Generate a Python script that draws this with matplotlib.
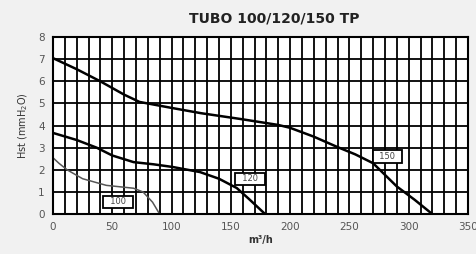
import numpy as np
import matplotlib
matplotlib.use("Agg")
import matplotlib.pyplot as plt

# pump curves: flow (m3/h) vs head (mH2O)
q150 = [0, 20, 40, 60, 73, 100, 125, 158, 190, 200, 220, 240, 255, 270, 290, 305, 320]
h150 = [7.05, 6.55, 6.0, 5.4, 5.07, 4.8, 4.56, 4.3, 4.03, 3.9, 3.5, 3.03, 2.7, 2.3, 1.25, 0.65, 0]

q120 = [0, 20, 37, 50, 68, 85, 101, 124, 140, 155, 165, 179]
h120 = [3.67, 3.35, 3.0, 2.65, 2.35, 2.25, 2.13, 1.9, 1.6, 1.18, 0.7, 0]

q100 = [0, 5, 12, 25, 45, 68, 76, 84, 90]
h100 = [2.55, 2.3, 2.0, 1.6, 1.3, 1.17, 1.0, 0.54, 0]

labels = ["150", "120", "100"]
label_q = [282, 166, 55]
label_h = [2.6, 1.6, 0.55]

fig = plt.figure(figsize=(4.77, 2.54), dpi=100, facecolor="#f1f1f1")
ax = fig.add_axes([0.111, 0.157, 0.870, 0.697])
ax.set_facecolor("white")

ax.set_xlim(0, 350)
ax.set_ylim(0, 8)
ax.set_xticks(np.arange(0, 351, 10), minor=True)
ax.set_xticks(np.arange(0, 351, 50))
ax.set_yticks(np.arange(0, 9, 1))
ax.grid(which="both", color="black", linewidth=1.3)
ax.tick_params(which="both", length=0, labelsize=7.5, labelcolor="#555555", pad=6)
for s in ax.spines.values():
    s.set_linewidth(1.5)

ax.plot(q150, h150, color="black", linewidth=1.8)
ax.plot(q120, h120, color="black", linewidth=1.8)
ax.plot(q100, h100, color="#555555", linewidth=1.1)

for t, x, y in zip(labels, label_q, label_h):
    ax.text(x, y, "  " + t + "  ", fontsize=6, color="#444444", ha="center", va="center",
            bbox=dict(boxstyle="square,pad=0.2", fc="white", ec="black", lw=1.3))

fig.text(0.575, 0.929, "TUBO 100/120/150 TP", fontsize=10, fontweight="bold",
         ha="center", va="center", color="#222222")
ax.set_xlabel("m³/h", fontsize=7, fontweight="bold", color="#333333", labelpad=2)
ax.set_ylabel("Hst (mmH$_2$O)", fontsize=7, color="#333333", labelpad=6)

fig.savefig("out.png", dpi=100, facecolor=fig.get_facecolor())
